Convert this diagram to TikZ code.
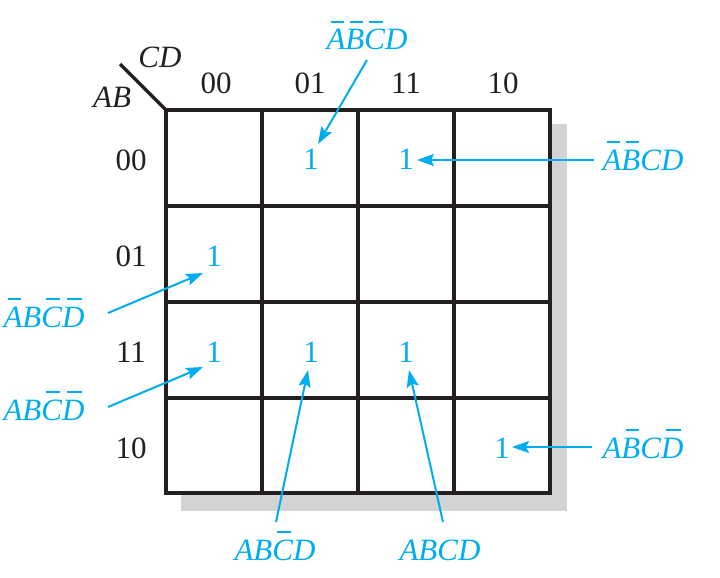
\documentclass[tikz,border=0pt]{standalone}
\usepackage{fontspec}
\setmainfont{Liberation Serif}
\usetikzlibrary{arrows.meta}
\definecolor{kblue}{HTML}{00AEEF}
\definecolor{kgray}{HTML}{D1D3D4}
\definecolor{kblack}{HTML}{231F20}
\newcommand\ob[1]{\setbox0=\hbox{#1}\rlap{\kern 0.22\wd0\raise 27pt\hbox{\vrule width 0.68\wd0 height 1.8pt depth 0pt}}\box0}
\begin{document}
\begin{tikzpicture}[x=1pt,y=-1pt,
  big/.style={font=\fontsize{31}{36}\selectfont, anchor=base, inner sep=0pt},
  hdr/.style={big, text=kblack},
  one/.style={big, text=kblue},
  term/.style={big, font=\fontsize{31}{36}\selectfont\itshape, text=kblue},
  vname/.style={big, font=\fontsize{31}{36}\selectfont\itshape, text=kblack},
  ptr/.style={draw=kblue, line width=2pt, -{Stealth[length=17pt,width=12pt,inset=3pt]}},
  grid/.style={draw=kblack, line width=3.3pt}]
\useasboundingbox (0,0) rectangle (720,578);
% shadow and map
\fill[kgray] (181,124) rectangle (567,511);
\fill[white] (166,110) rectangle (550,493);
\draw[grid] (262,110) -- (262,493) (358,110) -- (358,493) (454,110) -- (454,493);
\draw[grid] (166,206) -- (550,206) (166,302) -- (550,302) (166,398) -- (550,398);
\draw[grid, line cap=rect] (166,110) rectangle (550,493);
\coordinate (corner) at (166,110);
\coordinate (diag) at (120,64);
\draw[grid] (diag) -- (corner);
% variable names
\node[vname] (cd) at (160,67) {CD};
\node[vname] (ab) at (112,107) {AB};
% column headers
\node[hdr] (c00) at (216,93) {00};
\node[hdr] (c01) at (310,93) {01};
\node[hdr] (c11) at (406,93) {11};
\node[hdr] (c10) at (503,93) {10};
% row headers
\node[hdr] (r00) at (131,170) {00};
\node[hdr] (r01) at (131,266) {01};
\node[hdr] (r11) at (131,362) {11};
\node[hdr] (r10) at (131,458) {10};
% ones
\node[one] (m1)  at (311,169) {1};
\node[one] (m3)  at (406,169) {1};
\node[one] (m4)  at (214,266) {1};
\node[one] (m12) at (214,362) {1};
\node[one] (m13) at (311,362) {1};
\node[one] (m15) at (406,362) {1};
\node[one] (m10) at (502,458) {1};
% terms
\node[term] (t1)  at (367,50)  {\ob{A}\ob{B}\ob{C}D};
\node[term] (t3)  at (643,170) {\ob{A}\ob{B}CD};
\node[term] (t4)  at (44,327)  {\ob{A}B\ob{C}\ob{D}};
\node[term] (t12) at (44,420)  {AB\ob{C}\ob{D}};
\node[term] (t13) at (275,560) {AB\ob{C}D};
\node[term] (t15) at (440,560) {ABCD};
\node[term] (t10) at (643,458) {A\ob{B}C\ob{D}};
% arrow ends
\coordinate (s1) at (367,60);   \coordinate (e1) at (318,144);
\coordinate (s3) at (594,160);  \coordinate (e3) at (417,160);
\coordinate (s4) at (108,313);  \coordinate (e4) at (203,273);
\coordinate (s12) at (108,407); \coordinate (e12) at (203,367);
\coordinate (s13) at (276,522); \coordinate (e13) at (308,370);
\coordinate (s15) at (443,522); \coordinate (e15) at (409,370);
\coordinate (s10) at (592,447); \coordinate (e10) at (512,447);
\draw[ptr] (s1) -- (e1);
\draw[ptr] (s3) -- (e3);
\draw[ptr] (s4) -- (e4);
\draw[ptr] (s12) -- (e12);
\draw[ptr] (s13) -- (e13);
\draw[ptr] (s15) -- (e15);
\draw[ptr] (s10) -- (e10);
\end{tikzpicture}
\end{document}
